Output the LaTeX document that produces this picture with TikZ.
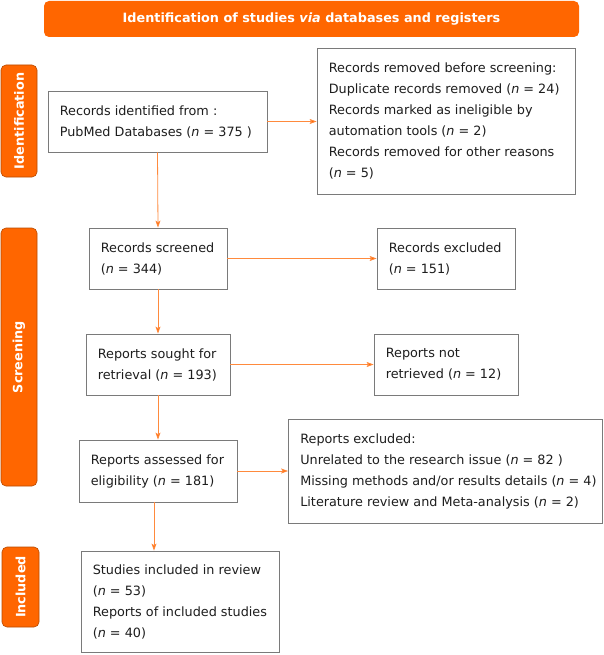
\documentclass[tikz,border=0pt]{standalone}
\usepackage{fontspec}
\setmainfont{DejaVu Sans}
\usetikzlibrary{arrows.meta}
\definecolor{prisma}{HTML}{FF6600}
\definecolor{labeledge}{HTML}{B84A00}
\definecolor{arrowc}{HTML}{FF8A3D}
\definecolor{boxedge}{HTML}{7A7A7A}
\definecolor{txt}{HTML}{1E1E1E}
\newcommand{\nn}{\textit{n}}
\begin{document}
\begin{tikzpicture}[x=1pt,y=-1pt,
  box/.style={draw=boxedge, line width=0.8pt, fill=white, inner sep=0pt},
  boxtext/.style={anchor=west, inner sep=0pt, align=left, text=txt, font=\fontsize{12.8}{21}\selectfont},
  sidelabel/.style={fill=prisma, draw=labeledge, line width=0.6pt, rounded corners=5pt, rotate=90,
    text=white, font=\fontsize{12.8}{14}\selectfont\bfseries, inner sep=0pt},
  titlebar/.style={fill=prisma, rounded corners=5pt, text=white,
    font=\fontsize{12.8}{14}\selectfont\bfseries, inner sep=0pt},
  arr/.style={draw=arrowc, line width=0.8pt, -{Stealth[length=7pt,width=5pt,inset=1.5pt,fill=prisma]}}
]
\useasboundingbox (0,0) rectangle (604,655);

\node[titlebar, minimum width=535pt, minimum height=36pt] (title) at (311.5,19)
  {Identification of studies \textit{via} databases and registers};

\node[sidelabel, minimum width=112pt, minimum height=36pt] (lident) at (19,121) {Identification};
\node[sidelabel, minimum width=258pt, minimum height=36pt] (lscreen) at (19,357) {Screening};
\node[sidelabel, minimum width=80pt, minimum height=37pt] (lincl) at (20.5,587) {Included};

\node[box, minimum width=219pt, minimum height=61pt] (ident) at (157.5,121.5) {};
\node[boxtext] (identt) at ([xshift=12pt]ident.west)
  {Records identified from :\\PubMed Databases (\nn{} = 375 )};
\node[box, minimum width=258pt, minimum height=146pt] (removed) at (446,121) {};
\node[boxtext] (removedt) at ([xshift=12pt]removed.west)
  {Records removed before screening:\\Duplicate records removed (\nn{} = 24)\\Records marked as ineligible by\\automation tools (\nn{} = 2)\\Records removed for other reasons\\(\nn{} = 5)};
\node[box, minimum width=138pt, minimum height=61pt] (screened) at (158,258.5) {};
\node[boxtext] (screenedt) at ([xshift=12pt]screened.west)
  {Records screened\\(\nn{} = 344)};
\node[box, minimum width=138pt, minimum height=61pt] (excluded) at (446,258.5) {};
\node[boxtext] (excludedt) at ([xshift=12pt]excluded.west)
  {Records excluded\\(\nn{} = 151)};
\node[box, minimum width=144pt, minimum height=61pt] (sought) at (158,364.5) {};
\node[boxtext] (soughtt) at ([xshift=12pt]sought.west)
  {Reports sought for\\retrieval (\nn{} = 193)};
\node[box, minimum width=144pt, minimum height=61pt] (notret) at (446,364.5) {};
\node[boxtext] (notrett) at ([xshift=12pt]notret.west)
  {Reports not\\retrieved (\nn{} = 12)};
\node[box, minimum width=158pt, minimum height=62pt] (assessed) at (158,471) {};
\node[boxtext] (assessedt) at ([xshift=12pt]assessed.west)
  {Reports assessed for\\eligibility (\nn{} = 181)};
\node[box, minimum width=314pt, minimum height=104pt] (repexcl) at (445.5,471) {};
\node[boxtext] (repexclt) at ([xshift=12pt]repexcl.west)
  {Reports excluded:\\Unrelated to the research issue (\nn{} = 82 )\\Missing methods and/or results details (\nn{} = 4)\\Literature review and Meta-analysis (\nn{} = 2)};
\node[box, minimum width=198pt, minimum height=101pt] (studies) at (180,601.5) {};
\node[boxtext] (studiest) at ([xshift=12pt]studies.west)
  {Studies included in review\\(\nn{} = 53)\\Reports of included studies\\(\nn{} = 40)};

\draw[arr] (ident.east) -- (ident.east -| removed.west);
\draw[arr] (ident.south) -- (screened.north);
\draw[arr] (screened.east) -- (excluded.west);
\draw[arr] (screened.south) -- (sought.north);
\draw[arr] (sought.east) -- (notret.west);
\draw[arr] (sought.south) -- (assessed.north);
\draw[arr] (assessed.east) -- (assessed.east -| repexcl.west);
\draw[arr] ([xshift=-4pt]assessed.south) -- ([xshift=-4pt]assessed.south |- studies.north);
\end{tikzpicture}
\end{document}
